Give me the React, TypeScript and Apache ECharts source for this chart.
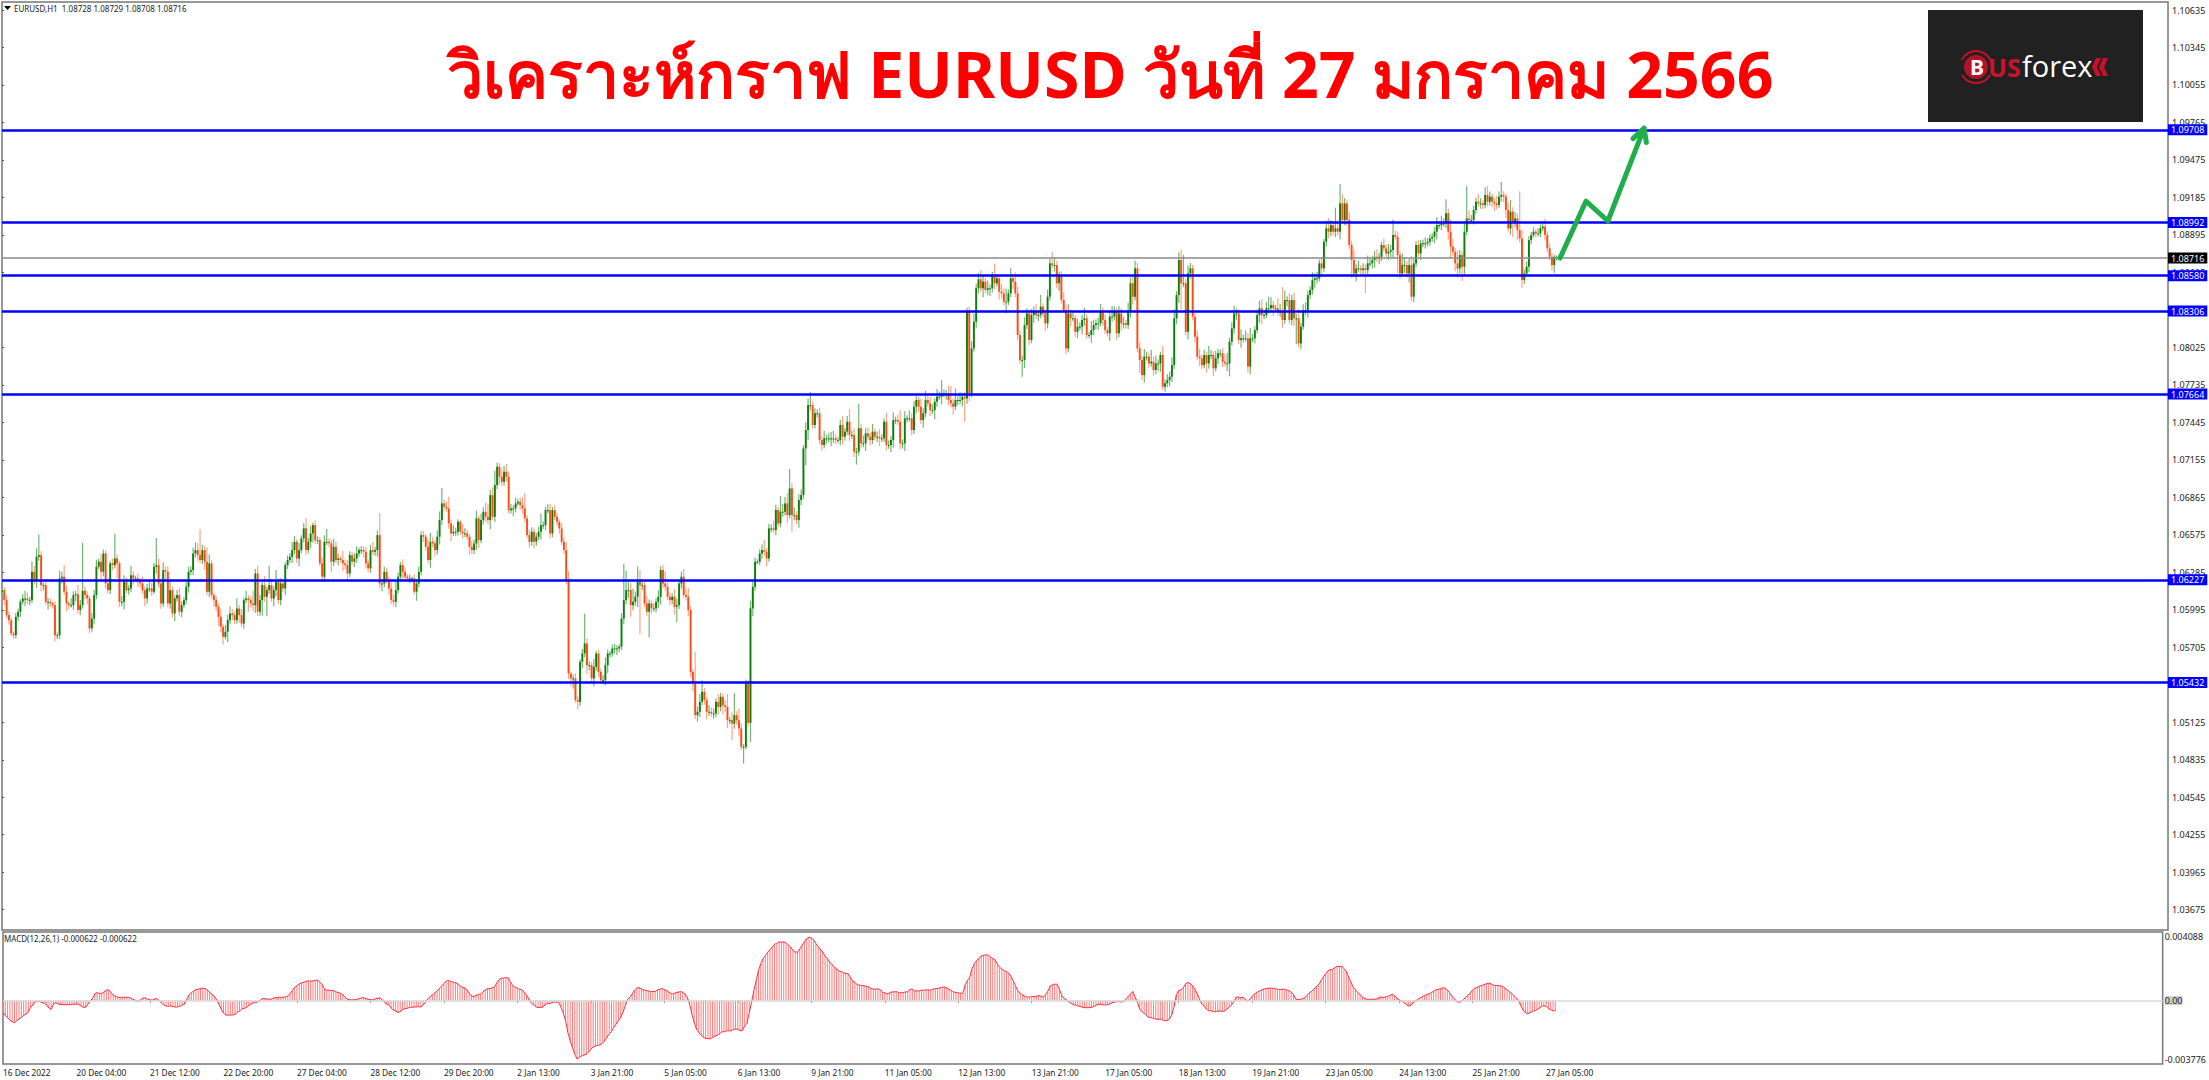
import React, { useEffect, useRef } from "react";
import * as echarts from "echarts";

const titleText = "วิเคราะห์กราฟ EURUSD วันที่ 27 มกราคม 2566";
const headerText = "EURUSD,H1  1.08728 1.08729 1.08708 1.08716";
const macdText = "MACD(12,26,1) -0.000622 -0.000622";

const timeLabels = ["16 Dec 2022","20 Dec 04:00","21 Dec 12:00","22 Dec 20:00","27 Dec 04:00","28 Dec 12:00","29 Dec 20:00","2 Jan 13:00","3 Jan 21:00","5 Jan 05:00","6 Jan 13:00","9 Jan 21:00","11 Jan 05:00","12 Jan 13:00","13 Jan 21:00","17 Jan 05:00","18 Jan 13:00","19 Jan 21:00","23 Jan 05:00","24 Jan 13:00","25 Jan 21:00","27 Jan 05:00"];
const priceTicks = [1.10635,1.10345,1.10055,1.09765,1.09475,1.09185,1.08895,1.08605,1.08025,1.07735,1.07445,1.07155,1.06865,1.06575,1.06285,1.05995,1.05705,1.05125,1.04835,1.04545,1.04255,1.03965,1.03675];
const levels = [1.09708,1.08992,1.0858,1.08306,1.07664,1.06227,1.05432];
const lastPrice = 1.08716;
const forecast = [[676.5,1.08716],[687.8,1.09157],[697.3,1.09003],[713,1.09722],[708.2,1.0964],[713,1.09722],[714,1.0961]];

// closing prices, in 0.00001 above 1.0
const closePts = [
6147,6070,5954,5915,5812,5799,5941,5980,6057,6083,6083,6070,6070,6289,6225,6405,6418,6186,6186,6057,6057,6044,6031,5799,5799,6238,
6251,6135,6044,6031,6031,6109,6116,5993,6031,6142,6109,6083,5851,5928,6109,6328,6367,6289,6431,6199,6147,6354,6341,6393,6354,6057,6057,6212,6147,6160,6263,6238,6238,6212,6199,6147,6083,6160,6160,6135,6328,6341,6199,6044,6302,6289,6044,6147,5967,6083,6109,5980,6031,6070,6173,6289,6302,6431,6457,6418,6380,6457,6367,6135,6354,
6109,6070,6018,5941,5864,5786,5825,5915,5967,5954,5915,6005,5954,5889,6070,6083,6070,6044,6031,6276,5980,6070,6186,6096,6147,6186,6083,6147,6212,6070,6199,6160,
6341,6380,6405,6457,6521,6392,6457,6547,6625,6457,6521,6586,6650,6534,6534,6354,6251,6521,6521,6509,6367,6483,6380,6392,6380,6354,6341,6276,6418,6367,6392,6431,6457,6457,6444,6354,6315,6457,6444,6457,6573,6199,6199,6289,6225,6160,6070,6057,6147,6251,6341,6289,6251,6238,6238,6238,6135,6199,6289,6573,6560,6483,6380,6521,6509,6457,6560,6690,
6818,6792,6779,6663,6586,6599,6599,6676,6599,6586,6586,6560,6482,6457,6508,6702,6534,6689,6753,6715,6689,6882,6715,6960,7102,7024,6985,7063,7024,6766,6779,6779,6818,6831,6805,6779,6702,6573,6521,6599,6521,6560,6599,6650,6650,6766,6766,6586,6766,6715,6676,6624,6521,6457,6225,
5502,5464,5464,5296,5283,5593,5657,5735,5567,5567,5464,5554,5657,5515,5451,5451,5567,5657,5657,5696,5696,5696,5709,5928,6070,6147,6147,6031,6057,6096,6212,6186,6186,6044,5980,6044,6006,6006,6057,6096,6302,6199,6173,6096,6070,6096,6018,6031,6199,6251,6109,6096,5993,5515,5425,5180,5206,5283,5361,5296,5206,5206,5193,5193,5283,5244,5322,5257,5244,5141,5141,5115,5180,5141,5077,4935,4935,5425,5121,6006,6173,6367,6367,6431,6457,6444,6392,6625,6625,6612,6767,6663,6754,6754,6818,6728,6934,6728,6728,6689,6844,6883,7244,7386,7579,7579,7425,7515,7515,7308,7270,7321,7321,7321,7321,7321,7308,7308,7425,7334,7373,7450,7347,7347,7218,7218,7399,7283,7283,7360,7334,7308,7373,7334,7334,7321,7321,7450,7270,7270,7308,7463,7463,7450,7283,7283,7476,7476,7476,7386,7566,7618,7566,7463,7515,7618,7592,7540,7540,7605,7644,7644,7670,7670,7670,7618,7592,
7566,7618,7618,7618,7643,7630,8301,7669,8017,8224,8482,8552,8482,8534,8469,8482,8482,8585,8521,8559,8456,8443,8379,8379,8443,8559,8534,8443,8121,7927,7927,8198,8288,8082,8275,8301,8275,8275,8340,8288,8211,8417,8675,8662,8662,8521,8585,8392,8314,8017,8288,8250,8250,8146,8185,8185,8237,8250,8121,8121,8159,8198,8211,8211,8301,8237,8159,8134,8263,8263,8301,8134,8288,8211,8211,8198,8301,8521,8417,8637,8017,7927,7811,7953,7953,7901,7914,7850,7901,7901,7966,7721,7747,7772,7798,7888,8250,8430,8701,8521,8521,8146,8598,8637,8263,8108,7953,7940,7888,7966,7901,7966,7966,7863,7940,7979,7979,7914,7901,7901,8069,8172,8288,8288,8082,8095,8095,8095,7876,8095,8095,8159,8275,8327,8275,8275,8327,8327,8353,8327,8327,8301,8301,8237,8391,8391,8237,8391,8250,8250,8056,8185,8314,8314,8430,8469,8546,8559,8559,8675,8637,8843,
8946,8920,8971,8920,8946,8920,9139,9010,9139,9010,8817,8701,8597,8636,8636,8623,8636,8623,8675,8675,8701,8726,8713,8726,8817,8791,8752,8765,8778,8894,8881,8739,8597,8662,8662,8597,8662,8417,8675,8817,8752,8830,8830,8830,8842,8868,8881,8920,8971,8971,8984,8984,9062,8920,8804,8765,8675,8636,8739,8649,8920,9023,9010,9010,9088,9152,9139,9139,9126,9204,9152,9191,9152,9139,9126,9191,9204,9191,9088,8946,9075,8997,9023,8933,8868,8546,8597,8649,8855,8894,8920,8907,8907,8946,8959,8894,8791,8726,8662,8726,8726,8716,
];

const wickUp = [
30,25,40,30,20,15,30,25,20,35,60,45,25,80,45,65,160,30,20,45,
30,25,15,30,20,60,40,90,45,20,55,30,25,70,40,370,35,30,20,45,
40,55,25,60,30,25,40,20,35,190,30,20,45,50,35,25,70,30,20,40,
30,55,25,35,60,45,30,210,50,35,60,30,45,70,30,25,40,55,30,25,
35,40,30,45,60,55,200,40,30,110,70,25,20,30,25,60,20,50,40,55,
35,30,80,30,45,20,60,25,30,100,35,60,40,30,70,25,150,50,30,90,
25,40,30,20,35,30,60,45,20,55,25,40,80,30,60,20,35,30,25,45,
50,100,25,30,60,40,35,20,70,30,40,30,25,40,55,20,30,30,35,25,
40,60,25,35,170,15,40,30,25,60,40,70,30,25,45,35,20,30,15,30,
25,40,30,35,20,60,70,40,25,50,65,120,30,40,90,30,50,30,20,15,
60,40,30,25,45,30,60,20,50,35,70,100,40,60,110,30,25,60,45,60,
40,35,25,45,20,30,60,120,25,40,35,25,30,40,90,30,25,45,50,25,
35,30,20,40,30,60,70,15,30,40,30,20,35,230,40,30,25,60,20,30,
25,40,60,30,20,30,35,25,20,40,280,150,80,60,100,40,120,90,30,25,
60,30,25,40,30,50,30,40,90,35,30,25,60,50,25,40,60,50,70,30,
20,245,40,60,90,30,25,50,35,40,25,60,30,25,40,100,25,60,170,30,
90,40,20,30,25,60,40,30,20,30,45,80,30,35,30,60,40,25,120,60,
50,80,150,40,60,30,45,40,25,60,50,100,30,40,30,45,30,60,25,40,
50,60,30,25,40,70,30,45,100,35,50,30,190,35,60,40,45,30,60,25,
40,60,30,25,70,35,30,60,25,40,90,30,55,25,60,40,45,30,25,60,
40,70,30,50,45,25,60,40,100,30,25,60,110,35,90,30,60,25,40,30,
40,55,60,35,50,70,45,30,60,30,25,90,30,20,60,40,100,30,80,25,
70,50,30,35,60,40,30,45,40,60,30,90,25,30,55,40,90,60,35,25,
30,60,40,70,30,45,25,60,35,40,80,30,25,70,40,30,45,60,35,40,
25,50,80,40,30,60,40,50,25,70,45,55,60,40,50,30,60,40,30,90,
40,60,30,25,70,30,45,40,60,70,30,60,80,220,35,60,40,25,30,50,
60,30,40,25,70,40,30,60,35,30,40,60,80,30,50,60,40,30,70,30,
60,40,80,35,30,40,60,70,30,50,90,60,30,25,80,60,190,70,30,50,
40,60,35,70,30,45,60,35,30,60,40,50,30,45,20,60,80,40,30,160,
60,150,70,40,30,60,35,80,30,60,25,40,30,60,40,30,45,60,30,25,
50,30,60,40,120,35,40,30,90,60,30,50,70,35,30,40,25,30,45,30,
30,25,35,60,30,60,40,110,35,90,60,30,100,40,30,60,250,60,40,30,
30,60,40,25,60,70,40,25,30,60,40,100,30,25,60,90,35,50,40,300,
60,30,40,30,25,35,20,40,30,25,60,30,40,25,15,10,13,
];

const wickDown = [
30,40,25,35,20,30,25,30,40,20,60,30,40,25,35,60,30,50,40,25,
60,30,25,50,30,30,40,25,60,30,20,35,50,30,40,25,30,45,35,25,
45,30,20,60,35,40,25,30,40,25,116,40,30,60,25,35,30,50,25,40,
30,25,60,40,30,35,20,50,30,40,25,60,30,40,30,60,25,35,40,20,
30,45,25,40,30,50,25,30,60,25,40,30,50,35,70,40,60,20,80,30,
40,30,25,60,30,40,25,90,30,45,60,35,30,120,40,150,30,25,60,45,
30,40,25,50,30,20,45,30,35,60,25,30,40,25,45,70,30,30,20,35,
40,25,30,80,35,25,40,20,60,30,50,25,30,40,35,25,30,45,40,30,
35,25,30,50,40,60,30,25,45,30,30,40,25,30,60,30,20,35,30,25,
70,30,25,40,30,25,60,30,50,35,60,40,30,25,40,60,20,35,30,25,
40,30,25,60,30,30,50,60,25,35,40,30,70,25,40,30,60,30,30,40,
30,25,60,30,20,35,40,30,25,45,30,50,30,25,60,30,40,25,35,30,
25,30,40,25,30,30,45,60,80,20,60,35,50,30,70,40,25,60,30,40,
25,30,40,60,30,25,40,50,30,25,40,30,60,90,40,30,80,380,40,30,
30,200,40,25,30,50,60,35,30,25,40,30,60,120,30,40,25,30,45,40,
60,30,50,40,25,35,60,30,25,40,30,60,35,70,40,60,30,130,40,35,
60,25,130,20,30,150,60,30,20,25,40,30,60,25,30,20,40,25,30,40,
30,60,25,130,40,30,60,40,30,130,80,40,30,25,35,30,45,25,40,30,
60,35,30,25,40,60,30,25,45,30,40,100,30,40,30,60,25,40,30,25,
40,60,30,25,40,30,55,60,30,25,45,40,60,30,25,40,30,50,40,30,
60,30,25,45,30,70,40,25,60,30,50,40,30,60,25,40,30,50,180,40,
60,30,25,50,40,30,70,25,40,60,30,45,25,60,40,30,90,25,30,60,
30,40,25,130,60,30,40,25,60,30,45,25,30,60,40,30,25,50,40,60,
30,25,45,30,60,25,40,50,30,60,45,30,25,60,40,30,50,25,40,30,
25,60,40,30,50,30,60,40,25,30,45,60,30,30,100,40,60,30,35,25,
45,30,60,65,25,40,30,50,40,30,45,60,200,30,25,60,40,30,45,25,
60,30,25,70,40,30,60,25,45,30,40,25,60,100,30,40,50,30,60,30,
25,45,60,30,40,25,60,70,30,25,40,30,60,25,30,40,60,30,45,30,
40,60,200,30,45,25,40,60,30,35,60,40,25,60,30,40,50,35,30,40,
30,60,25,40,45,30,140,30,60,25,40,30,180,30,25,40,60,30,45,35,
25,30,50,40,60,30,140,40,25,60,30,70,35,40,30,25,50,30,40,25,
30,25,50,60,30,40,25,35,60,90,30,60,70,40,110,60,30,40,25,35,
30,25,40,30,25,35,30,40,60,30,25,40,45,60,25,50,120,40,80,30,
60,30,25,40,30,20,30,25,30,20,40,30,25,40,60,30,8,
];

// MACD main values, in 0.000001
const macdPts = [
-700,-880,-1020,-1160,-1260,-1320,-1200,-1100,-1000,-880,-800,-700,-400,-280,-60,-50,-60,-120,-160,-260,-440,-520,-200,-120,-200,-240,-240,-240,-240,-240,-220,-220,-200,-240,-320,-400,-400,-200,-20,140,400,480,420,440,520,620,640,500,320,260,200,180,200,200,200,180,120,60,-20,-40,60,160,160,80,40,40,100,120,0,-140,-260,-320,-340,-320,-360,-380,-380,-340,-260,-220,60,340,480,560,660,680,720,740,720,640,480,380,260,60,-200,-500,-740,-860,-860,-860,-860,-820,-700,-620,-500,-460,-420,-300,-200,-140,-120,-60,20,120,120,100,80,100,160,180,200,200,200,220,280,400,600,800,880,1000,1060,1100,1140,1180,1160,1180,1200,1220,1100,960,680,620,620,600,600,520,480,440,340,200,80,60,40,60,60,120,160,180,120,80,60,40,100,140,160,80,-100,-200,-260,-440,-560,-620,-700,-660,-540,-480,-460,-400,-400,-380,-380,-360,-380,-260,-100,100,240,340,460,560,720,860,1020,1160,1200,1140,1100,1060,1020,880,800,760,660,440,280,240,300,360,400,520,640,720,700,760,800,1060,1240,1340,1340,1360,1360,1100,900,800,740,680,640,500,320,100,-120,-260,-360,-420,-400,-400,-260,-160,-180,-120,-80,-100,-100,-400,-740,-1200,-1900,-2380,-2800,-3200,-3480,-3380,-3300,-3240,-3200,-3080,-2900,-2760,-2700,-2660,-2640,-2540,-2400,-2200,-1980,-1840,-1600,-1400,-1200,-1000,-700,-300,80,200,400,620,740,780,700,640,600,580,540,540,540,640,680,720,660,600,500,420,400,480,500,540,500,400,200,-200,-800,-1300,-1700,-1900,-2050,-2180,-2250,-2260,-2280,-2200,-2120,-2060,-1980,-1860,-1860,-1800,-1800,-1800,-1720,-1700,-1700,-1800,-1780,-1500,-1360,-700,-100,600,1200,1800,2200,2500,2680,2880,3040,3200,3360,3420,3500,3480,3500,3440,3320,3200,3000,2900,2880,3080,
3300,3500,3700,3780,3740,3620,3400,3220,3060,2900,2660,2500,2300,2160,2000,1900,1760,1740,1660,1620,1600,1400,1180,1080,960,920,900,880,860,820,720,680,680,700,660,500,460,400,460,520,520,540,480,460,480,520,520,680,680,580,580,580,620,620,640,640,620,680,720,720,760,800,800,760,680,600,520,480,460,440,440,940,1200,1400,1900,2200,2400,2500,2660,2700,2720,2720,2600,2520,2440,2180,1980,1880,1780,1740,1640,1440,1160,860,560,440,340,260,200,220,240,240,260,300,260,220,340,560,860,940,980,980,700,320,140,60,-60,-140,-240,-260,-320,-340,-400,-420,-420,-420,-400,-360,-260,-240,-220,-260,-260,-240,-200,-120,-100,-60,-60,-80,-60,100,240,400,540,220,-80,-500,-660,-760,-900,-1000,-1020,-1060,-1100,-1120,-1100,-1160,-1200,-1180,-1100,-840,-360,360,600,640,760,1000,1080,1020,900,680,440,100,-200,-320,-500,-600,-600,-660,-660,-620,-620,-640,-620,-500,-400,-260,-60,200,220,180,200,80,-20,80,260,400,480,560,640,680,720,740,740,740,700,680,660,680,680,640,600,500,360,100,60,80,120,200,320,480,560,700,860,960,1200,1400,1600,1780,1840,1860,1980,2040,2020,2060,1900,1760,1400,1100,800,640,480,360,200,140,80,80,80,80,100,160,220,180,220,240,320,380,300,160,40,-20,-120,-220,-320,-300,-140,-40,60,160,220,300,360,400,480,560,640,680,700,760,740,640,460,280,120,-40,-100,-60,60,200,320,460,640,740,800,860,900,960,1000,1040,1000,920,900,900,880,860,760,640,540,440,300,160,20,-300,-560,-720,-780,-720,-640,-600,-540,-460,-360,-300,-340,-480,-540,-600,-622,
];

const candleRows = closePts.map((pt, i) => {
  const close = 1 + pt / 1e5;
  const open = i === 0 ? close - 0.00015 : 1 + closePts[i - 1] / 1e5;
  const high = Math.max(open, close) + (wickUp[i] ?? 0) / 1e5;
  const low = Math.min(open, close) - (wickDown[i] ?? 0) / 1e5;
  return [i, open, close, low, high];
});
const macdRows = macdPts.map((pt, i) => [i, pt / 1e6]);

const FONT = '"Noto Sans", sans-serif';
const X_MAX = 940.5;

function renderCandle(params: any, api: any) {
  const i = api.value(0), open = api.value(1), close = api.value(2), low = api.value(3), high = api.value(4);
  const up = close >= open;
  const [x, yTop] = api.coord([i, Math.max(open, close)]);
  const yBot = api.coord([i, Math.min(open, close)])[1];
  const yH = api.coord([i, high])[1];
  const yL = api.coord([i, low])[1];
  return {
    type: "group",
    children: [
      { type: "line", shape: { x1: x, y1: yH, x2: x, y2: yL }, style: { stroke: up ? "#74b574" : "#ffa488", lineWidth: 1.2 } },
      { type: "rect", shape: { x: x - 0.95, y: yTop, width: 1.9, height: Math.max(1, yBot - yTop) }, style: { fill: up ? "#0a7f0a" : "#ff4a12" } },
    ],
  };
}

function buildOption(): any {
  const levelLabel = {
    show: true, position: "end", distance: 0, color: "#fff", backgroundColor: "#0000ff",
    fontFamily: FONT, fontSize: 9, padding: [1, 3, 1, 3],
    formatter: (p: any) => Number(p.value).toFixed(5),
  };
  return {
    animation: false,
    backgroundColor: "#ffffff",
    grid: [
      { left: 2, top: 2, width: 2166, height: 928, show: true, borderColor: "#777", borderWidth: 1.5, backgroundColor: "#fff" },
      { left: 2, top: 932, width: 2166, height: 132, show: true, borderColor: "#777", borderWidth: 1.5, backgroundColor: "#fff" },
    ],
    xAxis: [
      { type: "value", gridIndex: 0, min: 0, max: X_MAX, show: false, splitLine: { show: false } },
      {
        type: "value", gridIndex: 1, min: 0, max: X_MAX, splitLine: { show: false },
        axisLine: { show: false },
        axisTick: { show: true, length: 2, lineStyle: { color: "#555" }, customValues: timeLabels.map((_, k) => k * 32) },
        axisLabel: {
          show: true, align: "left", margin: 4, color: "#222", fontFamily: FONT, fontSize: 8.3,
          customValues: timeLabels.map((_, k) => k * 32),
          formatter: (v: number) => timeLabels[Math.round(v / 32)] ?? "",
        },
      },
    ],
    yAxis: [
      {
        type: "value", gridIndex: 0, position: "right", min: 1.03518, max: 1.10697, scale: true, splitLine: { show: false },
        axisLine: { show: false },
        axisTick: { show: true, length: 2, lineStyle: { color: "#555" }, customValues: priceTicks },
        axisLabel: {
          show: true, margin: 4, color: "#222", fontFamily: FONT, fontSize: 9, customValues: priceTicks,
          formatter: (v: number) => v.toFixed(5),
        },
      },
      {
        type: "value", gridIndex: 1, position: "right", min: -0.003776, max: 0.004088, splitLine: { show: false },
        axisLine: { show: false },
        axisTick: { show: false },
        axisLabel: {
          show: true, margin: 2, color: "#222", fontFamily: FONT, fontSize: 9,
          customValues: [-0.003776, 0, 0.004088],
          verticalAlignMinLabel: "bottom", verticalAlignMaxLabel: "top",
          formatter: (v: number) => (v === 0 ? "{z|0.00}" : v.toFixed(6)),
          rich: { z: { backgroundColor: "#cfcfcf", fontFamily: FONT, fontSize: 9, color: "#222" } },
        },
      },
    ],
    series: [
      {
        type: "custom", name: "EURUSD", xAxisIndex: 0, yAxisIndex: 0, data: candleRows, renderItem: renderCandle, clip: true, z: 3,
        encode: { x: 0, y: [1, 2, 3, 4] },
      },
      {
        type: "line", name: "forecast", xAxisIndex: 0, yAxisIndex: 0, data: forecast, showSymbol: false, symbol: "none", z: 6,
        lineStyle: { color: "#1fae4b", width: 5, join: "round", cap: "round" }, silent: true,
        markLine: {
          silent: true, symbol: "none", precision: 5, animation: false,
          data: [
            ...levels.map((v) => ({ yAxis: v, label: levelLabel, lineStyle: { color: "#0000ff", width: 2.6, type: "solid" } })),
            { yAxis: lastPrice, label: { ...levelLabel, backgroundColor: "#000" }, lineStyle: { color: "#8a8a8a", width: 1.5, type: "solid" } },
          ],
        },
      },
      {
        type: "bar", name: "MACD", xAxisIndex: 1, yAxisIndex: 1, data: macdRows, barWidth: 1, itemStyle: { color: "#ff7c7c" }, z: 2,
        markLine: {
          silent: true, symbol: "none", animation: false, label: { show: false },
          data: [{ yAxis: 0, lineStyle: { color: "#d8d8d8", width: 1.5, type: "solid" } }],
        },
      },
      {
        type: "line", name: "MACD line", xAxisIndex: 1, yAxisIndex: 1, data: macdRows, showSymbol: false, symbol: "none", z: 3,
        lineStyle: { color: "#ff3040", width: 1 }, silent: true,
      },
    ],
    graphic: [
      { type: "polygon", silent: true, shape: { points: [[4, 6], [11, 6], [7.5, 10]] }, style: { fill: "#000" } },
      { type: "text", silent: true, x: 14, y: 8, style: { text: headerText, font: `8px ${FONT}`, fill: "#222", verticalAlign: "middle" } },
      { type: "text", silent: true, x: 4, y: 938, style: { text: macdText, font: `8px ${FONT}`, fill: "#222", verticalAlign: "middle" } },
      { type: "text", silent: true, x: 1110, y: 73, style: { text: titleText, font: `bold 64.4px ${FONT}`, fill: "#ff0000", textAlign: "center", verticalAlign: "middle" } },
      { type: "rect", silent: true, shape: { x: 1928, y: 10, width: 215, height: 112 }, style: { fill: "#212121" } },
      { type: "arc", silent: true, shape: { cx: 1976, cy: 67, r: 16, startAngle: 3.6, endAngle: 6.0 }, style: { stroke: "#c8102e", fill: "none", lineWidth: 2 } },
      { type: "arc", silent: true, shape: { cx: 1976, cy: 67, r: 16, startAngle: 0.5, endAngle: 2.6 }, style: { stroke: "#c8102e", fill: "none", lineWidth: 2 } },
      { type: "circle", silent: true, shape: { cx: 1976, cy: 67, r: 12 }, style: { fill: "#b3132a" } },
      { type: "text", silent: true, x: 1977, y: 67, style: { text: "B", font: `bold 21px ${FONT}`, fill: "#fff", textAlign: "center", verticalAlign: "middle" } },
      { type: "text", silent: true, x: 1988, y: 67, style: { text: "US", font: `bold 25px ${FONT}`, fill: "#d0112b", verticalAlign: "middle" } },
      { type: "text", silent: true, x: 2022, y: 65, style: { text: "forex", font: `29px "Open Sans", sans-serif`, fill: "#fff", verticalAlign: "middle" } },
      { type: "polygon", silent: true, shape: { points: [[2101, 58], [2096, 58], [2092, 67], [2096, 76], [2101, 76], [2097, 67]] }, style: { fill: "#c8102e" } },
      { type: "polygon", silent: true, shape: { points: [[2108, 58], [2103, 58], [2099, 67], [2103, 76], [2108, 76], [2104, 67]] }, style: { fill: "#c8102e" } },
    ],
  };
}

export default function App() {
  const ref = useRef<HTMLDivElement>(null);
  useEffect(() => {
    if (!ref.current) return;
    const chart = echarts.init(ref.current, undefined, { renderer: "svg" });
    chart.setOption(buildOption());
    return () => chart.dispose();
  }, []);
  return <div ref={ref} style={{ position: "fixed", left: 0, top: 0, width: 2209, height: 1080, background: "#fff" }} />;
}
